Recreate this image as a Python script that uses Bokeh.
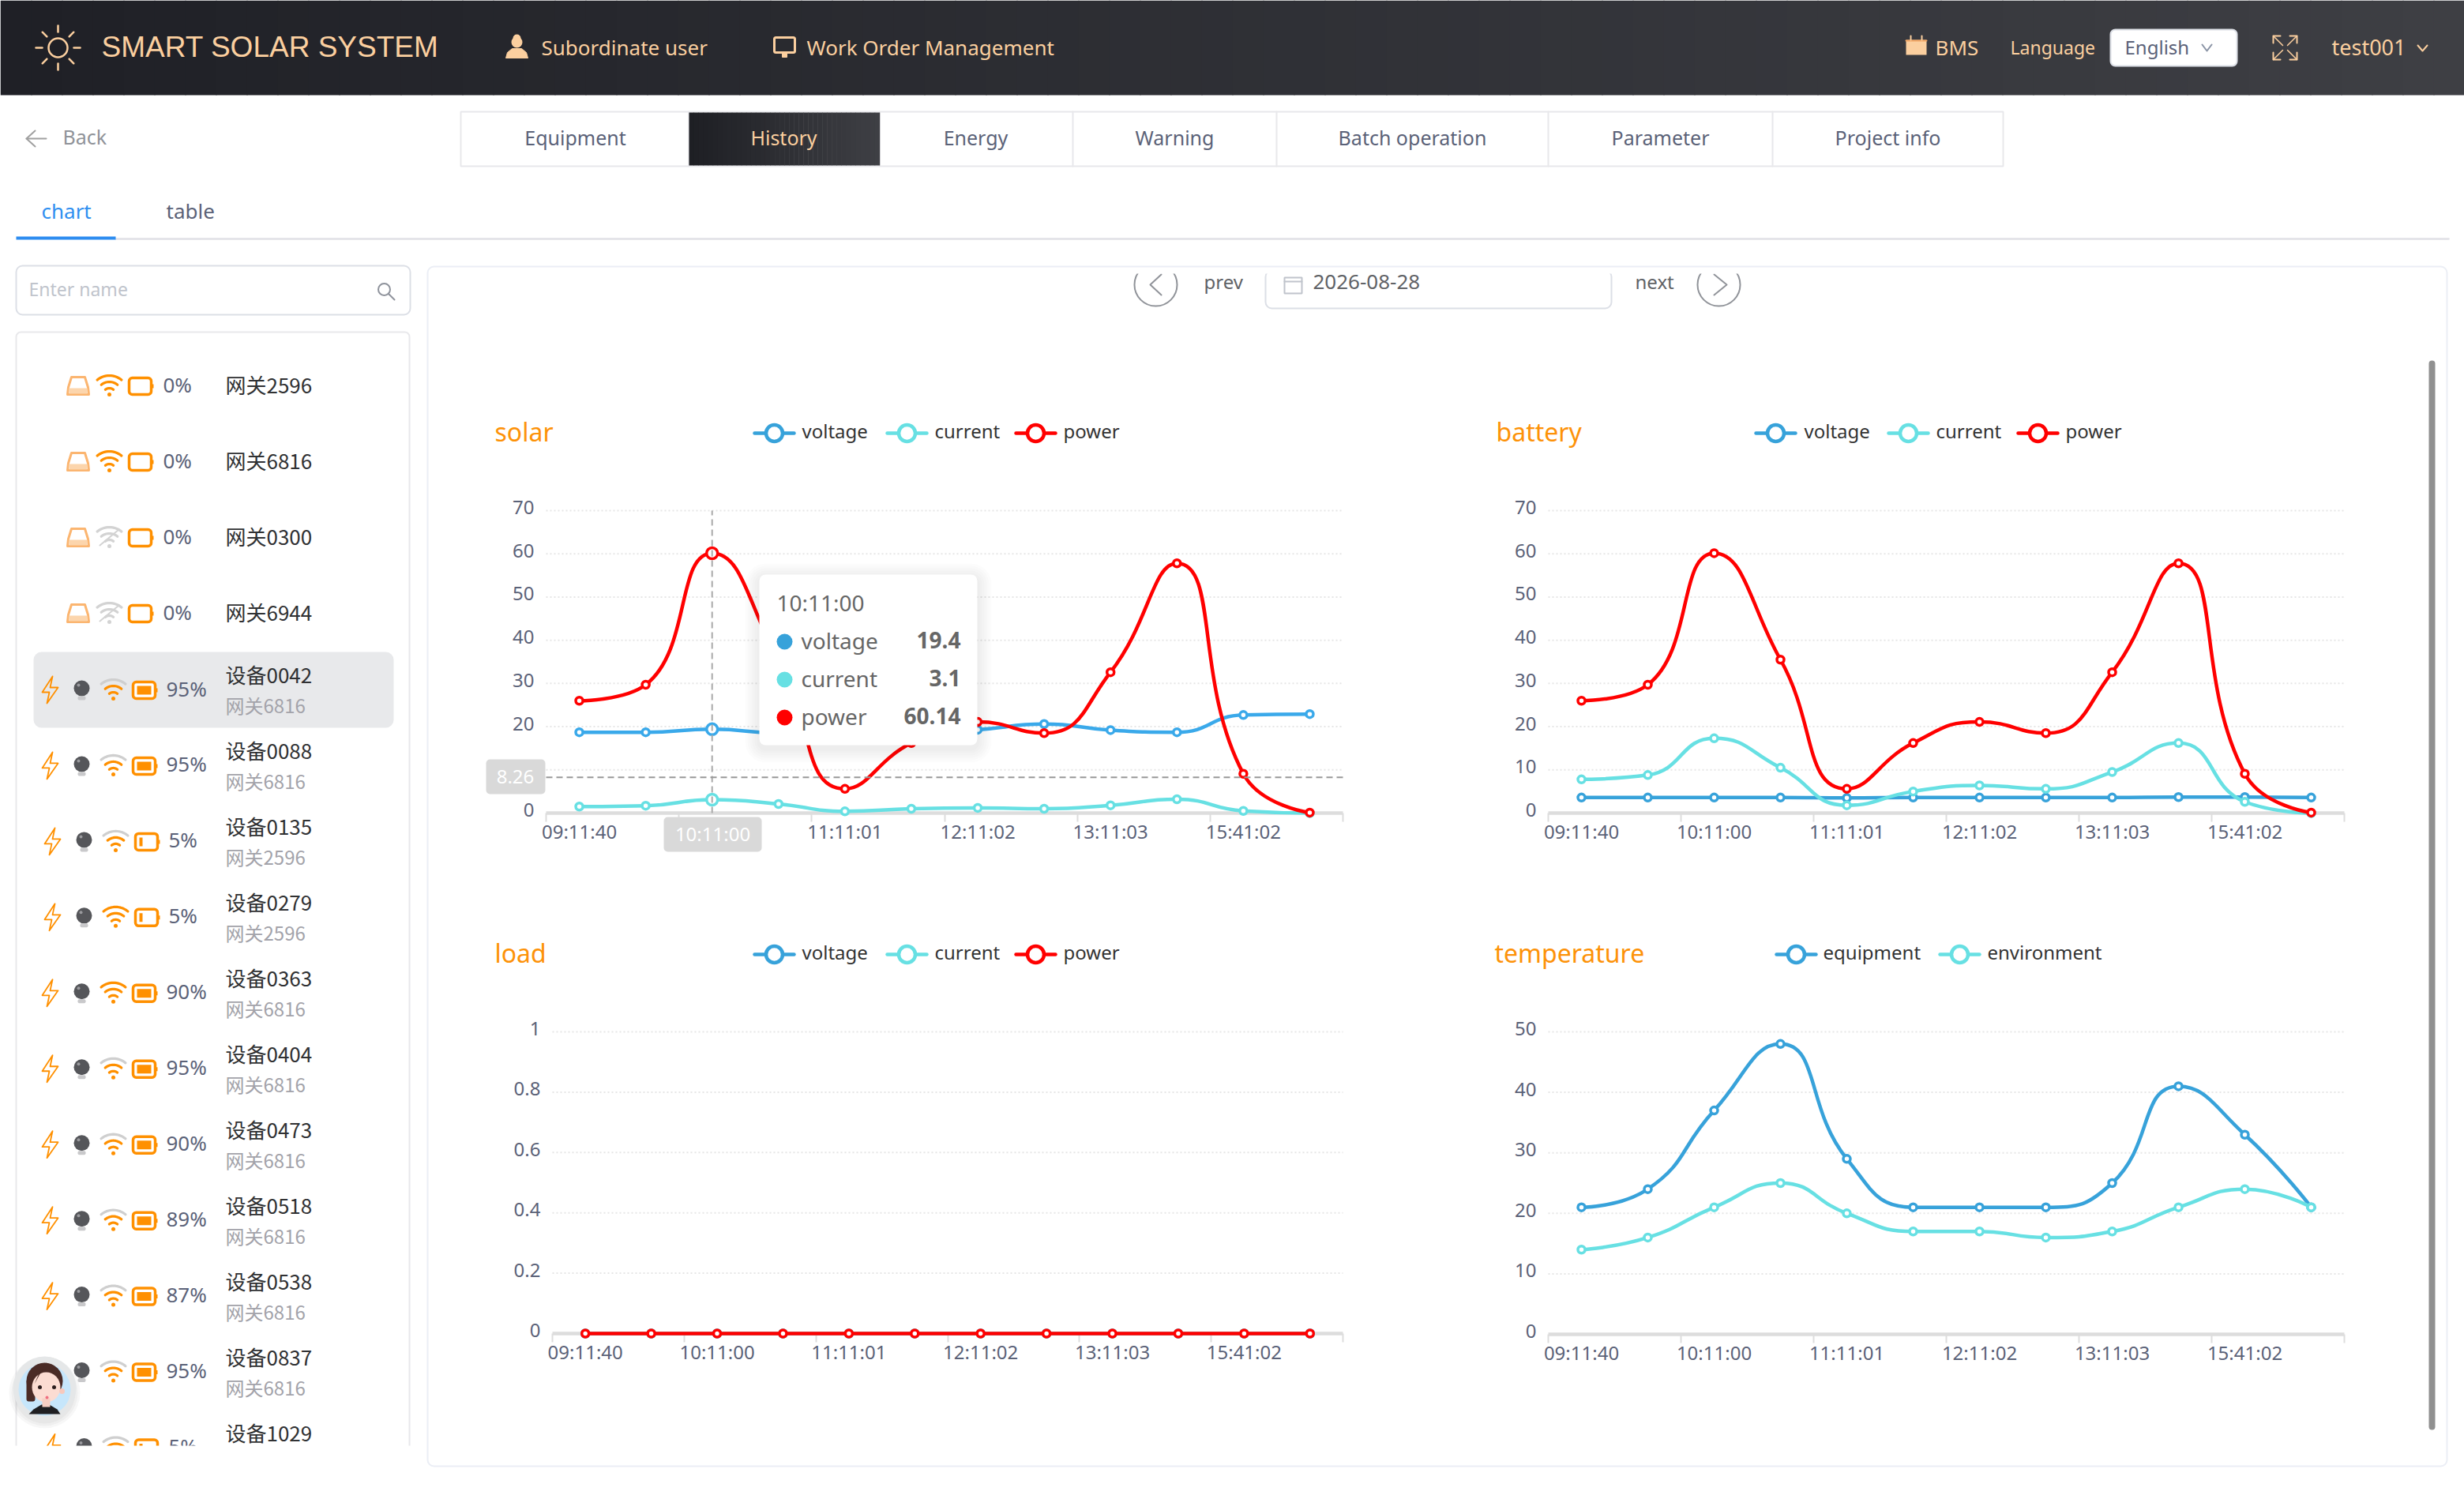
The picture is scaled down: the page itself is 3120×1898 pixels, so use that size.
import math
import numpy as np
from bokeh.plotting import figure
from bokeh.models import Range1d, LinearAxis, FixedTicker
from bokeh.core.properties import value
from bokeh.embed import file_html
from bokeh.resources import INLINE

# ------------------------------------------------------------------ data
time_index = list(range(12))
time_ticks = [0, 2, 4, 6, 8, 10]
time_labels = ["09:11:40", "10:11:00", "11:11:01", "12:11:02", "13:11:03", "15:41:02"]

solar_voltage = [18.7, 18.7, 19.4, 18.5, 18.4, 18.6, 19.3, 20.6, 19.2, 18.7, 22.7, 22.9]
solar_current = [1.5, 1.7, 3.1, 2.1, 0.4, 1.0, 1.2, 1.0, 1.8, 3.2, 0.5, 0.0]
solar_power = [26.0, 29.7, 60.14, 35.5, 5.6, 16.2, 21.1, 18.5, 32.6, 57.8, 9.1, 0.1]
battery_voltage = [3.6, 3.6, 3.6, 3.6, 3.5, 3.6, 3.6, 3.6, 3.6, 3.7, 3.7, 3.6]
battery_current = [7.8, 8.8, 17.3, 10.5, 1.8, 5.0, 6.4, 5.6, 9.5, 16.2, 2.6, 0.0]
battery_power = [26.0, 29.7, 60.14, 35.5, 5.6, 16.2, 21.1, 18.5, 32.6, 57.8, 9.1, 0.1]
load_voltage = [0] * 12
load_current = [0] * 12
load_power = [0] * 12
temp_equipment = [21, 24, 37, 48, 29, 21, 21, 21, 25, 41, 33, 21]
temp_environment = [14, 16, 21, 25, 20, 17, 17, 16, 17, 21, 24, 21]

ticks_70 = [0, 10, 20, 30, 40, 50, 60, 70]
ticks_1 = [0, 0.2, 0.4, 0.6, 0.8, 1]
ticks_50 = [0, 10, 20, 30, 40, 50]

nav_tabs = ["Equipment", "History", "Energy", "Warning", "Batch operation", "Parameter", "Project info"]
gateway_names = ["网关2596", "网关6816", "网关0300", "网关6944"]
gateway_online = [True, True, False, False]
device_names = ["设备0042", "设备0088", "设备0135", "设备0279", "设备0363", "设备0404",
                "设备0473", "设备0518", "设备0538", "设备0837", "设备1029"]
device_gateways = ["网关6816", "网关6816", "网关2596", "网关2596", "网关6816", "网关6816",
                   "网关6816", "网关6816", "网关6816", "网关6816", ""]
device_percent = [95, 95, 5, 5, 90, 95, 90, 89, 87, 95, 5]
device_full_wifi = [False, False, False, True, True, False, False, False, False, False, False]

hover_index = 2
hover_time = "10:11:00"
hover_y = 8.26
hover_names = ["voltage", "current", "power"]
hover_values = ["19.4", "3.1", "60.14"]

# ------------------------------------------------------------------ style
W, H = 3120, 1898
PEACH = "#fbcf9f"
ORANGE = "#ff9000"
BLUE, CYAN, RED = "#37a2da", "#67e0e3", "#ff0000"
TICK = "#5b6278"
SANS = "Noto Sans"
CJK = "Noto Sans CJK SC"

p = figure(width=W, height=H, x_range=Range1d(0, W), y_range=Range1d(H, 0),
           x_axis_type=None, y_axis_type=None, toolbar_location=None,
           output_backend="svg", min_border=0, outline_line_color=None)
p.grid.visible = False


def T(x, y, s, size, color, font=SANS, align="left", bold=False):
    p.text(x=[x], y=[y - 2], text=[s], text_font=value(font), text_font_size=f"{size}px",
           text_color=color, text_align=align, text_baseline="middle",
           text_font_style="bold" if bold else "normal")


def L(xs, ys, color, w=2, dash="solid", alpha=1.0):
    p.line(xs, ys, line_color=color, line_width=w, line_dash=dash, line_alpha=alpha,
           line_cap="round", line_join="round")


def B(l, t, r, b, fill=None, line=None, w=2, radius=0, alpha=1.0):
    p.quad(left=[l], right=[r], top=[t], bottom=[b], fill_color=fill, fill_alpha=alpha,
           line_color=line, line_width=w, border_radius=radius)


def D(x, y, d, fill, line=None, w=0):
    p.scatter([x], [y], size=d, marker="circle", fill_color=fill, line_color=line, line_width=w)


def shadow(l, t, r, b, spread=18, dy=4, radius=10, alpha=0.012):
    for s in range(spread, 0, -3):
        B(l - s, t - s + dy, r + s, b + s + dy, fill="#000000", radius=radius + s, alpha=alpha)


# ------------------------------------------------------------------ header
edges = np.linspace(0, W, 81)
for i in range(80):
    t = i / 79
    c = tuple(int(round(a + (b - a) * t)) for a, b in zip((31, 32, 38), (62, 63, 68)))
    B(float(edges[i]), 0, float(edges[i + 1]) + 1, 120, fill="#%02x%02x%02x" % c)

# sun logo
cx, cy = 73, 60
D(cx, cy, 24, None, PEACH, 2.5)
for a in range(0, 360, 45):
    ca, sa = math.cos(math.radians(a)), math.sin(math.radians(a))
    L([cx + 20 * ca, cx + 28 * ca], [cy + 20 * sa, cy + 28 * sa], PEACH, 2.5)
T(128, 61, "SMART SOLAR SYSTEM", 37, PEACH, font="Liberation Sans")

# person
D(654, 53, 14, PEACH)
D(654, 48, 10, PEACH)
p.patch([640, 642, 648, 660, 666, 668], [73, 66, 61, 61, 66, 73], fill_color=PEACH, line_color=PEACH)
T(685, 61, "Subordinate user", 26, PEACH)
# monitor
B(980, 47, 1006, 66, None, PEACH, 3, radius=2)
B(990, 66, 996, 72, PEACH, PEACH, 1)
T(1021, 61, "Work Order Management", 26, PEACH)
# bms
B(2413, 50, 2439, 69, PEACH, None)
L([2413, 2439], [51, 51], "#f4a662", 2)
L([2419, 2419], [45, 50], PEACH, 2)
L([2433, 2433], [45, 50], PEACH, 2)
T(2450, 61, "BMS", 26, PEACH)
T(2545, 61, "Language", 23, PEACH)
B(2672, 37, 2832, 83, "#ffffff", "#dcdfe6", 2, radius=6)
T(2690, 61, "English", 24, "#5b6278")
L([2788, 2794, 2800], [56, 64, 56], "#8a93a5", 2)
# fullscreen
for (a, b, sx, sy) in [(2878, 45, 1, 1), (2908, 45, -1, 1), (2878, 75, 1, -1), (2908, 75, -1, -1)]:
    L([a, a, a + 9 * sx], [b + 9 * sy, b, b], PEACH, 2)
    L([a, a + 12 * sx], [b, b + 12 * sy], PEACH, 1.5)
T(2952, 61, "test001", 27, PEACH)
L([3061, 3067, 3073], [57, 64, 57], PEACH, 2)

# ------------------------------------------------------------------ nav
L([33, 58], [175, 175], "#a0a0a0", 2)
L([44, 33, 44], [165, 175, 185], "#a0a0a0", 2)
T(79, 174, "Back", 25, "#909399")

tab_edges = [583, 872, 1113, 1358, 1616, 1960, 2244, 2536]
tab_centers = [728, 992, 1235, 1487, 1788, 2102, 2390]
B(583, 141, 2536, 210, None, "#e8e8eb", 2)
for x_edge in tab_edges[1:-1]:
    L([x_edge, x_edge], [141, 210], "#e8e8eb", 2)
for i in range(40):
    t = i / 39
    c = tuple(int(round(a + (b - a) * t)) for a, b in zip((30, 31, 36), (62, 63, 68)))
    B(872 + i * 6.03, 142, 872 + (i + 1) * 6.03 + 0.5, 209, fill="#%02x%02x%02x" % c)
for name, x_c in zip(nav_tabs, tab_centers):
    T(x_c, 175, name, 25, PEACH if name == "History" else "#5b6278", align="center")

T(52, 268, "chart", 26, "#2f8ff0")
T(210, 268, "table", 26, "#5b6278")
L([146, 3100], [302, 302], "#e0e0e6", 2.5)
B(20, 299, 146, 303, "#2d8cf0")

# ------------------------------------------------------------------ sidebar
B(20, 336, 519, 398, None, "#dcdfe6", 2, radius=8)
T(36, 367, "Enter name", 23, "#c0c4cc")
D(486, 366, 15, None, "#8f939c", 2)
L([492, 499], [372, 379], "#8f939c", 2)
B(20, 420, 518, 1900, None, "#e8e8eb", 2, radius=6)


def wifi(cx, cy, top, mid, low):
    ang = np.radians(np.linspace(-40, 40, 17))
    ay = cy + 11
    for r, col in zip((24, 16, 8), (top, mid, low)):
        p.line(list(cx + r * np.sin(ang)), list(ay - r * np.cos(ang)), line_color=col,
               line_width=3.2, line_cap="round")
    D(cx, ay, 5, low)


def battery(l, cy, pct):
    B(l + 1, cy - 10, l + 29, cy + 11, "#ffffff", ORANGE, 3.5, radius=4)
    B(l + 30, cy - 2, l + 32, cy + 3, ORANGE)
    if pct >= 50:
        B(l + 6, cy - 5, l + 24, cy + 6, ORANGE)
    elif pct > 0:
        B(l + 6, cy - 5, l + 10, cy + 6, ORANGE)


for i, (name, online) in enumerate(zip(gateway_names, gateway_online)):
    y = 488 + 96 * i
    p.patch([86, 90, 107, 111, 112, 85], [y + 2, y - 11, y - 11, y + 2, y + 11, y + 11],
            fill_color="#ffffff", line_color="#fbb570", line_width=3, line_join="round")
    B(87, y + 3, 110, y + 10, "#fcd5ac")
    if online:
        wifi(138, y, ORANGE, ORANGE, ORANGE)
    else:
        wifi(138, y, "#d3d3d3", "#d3d3d3", "#d3d3d3")
        L([126, 150], [y + 10, y - 10], "#d3d3d3", 2)
    battery(162, y, 0)
    T(206, y, "0%", 26, TICK)
    T(285, y, name, 26, "#303133", font=CJK)

B(42, 825, 498, 921, "#e8e9eb", radius=10)

bolt_x = [13, 0, 9, 6, 20, 10, 13]
bolt_y = [-17, 3, 3, 17, -3, -3, -17]
for i, (name, gate, pct, full) in enumerate(zip(device_names, device_gateways, device_percent, device_full_wifi)):
    y_name = 855 + 95.95 * i
    y = y_name + 18
    dx = 3 if pct < 10 else 0
    L([53 + dx + a for a in bolt_x], [y + a for a in bolt_y], ORANGE, 1.8)
    D(103 + dx, y - 2, 20, "#55565a")
    D(99 + dx, y - 6, 4, "#9a9a9e")
    B(98 + dx, y + 8, 108 + dx, y + 13, "#c9c9cb", radius=2)
    wifi(143 + dx, y, ORANGE if full else "#cfcfcf", ORANGE, ORANGE)
    battery(167 + dx, y, pct)
    T(210 + dx, y, f"{pct}%", 26, TICK)
    T(285, y_name, name, 26, "#303133", font=CJK)
    if gate:
        T(285, y_name + 39, gate, 24, "#a3a3aa", font=CJK)

B(0, 1830, 540, 1898, "#ffffff")

# avatar
shadow(20, 1724, 92, 1796, spread=9, dy=3, radius=36, alpha=0.03)
D(56, 1757, 80, "#e5e7e8")
D(56, 1759, 66, "#c6e6fb")
D(56, 1748, 46, "#4a2b26")
B(33, 1746, 44, 1774, "#4a2b26", radius=3)
p.ellipse([58], [1756], width=[36], height=[38], fill_color="#fbdcd2", line_color=None)
p.patch([36, 42, 52, 62, 72, 76], [1790, 1784, 1778, 1778, 1784, 1790], fill_color="#1f1f22", line_color=None)
B(53, 1770, 63, 1781, "#f6cfc4")
D(50, 1756, 5, "#2a1c1c")
D(68, 1756, 5, "#2a1c1c")
D(59, 1769, 4, "#ef6f80")
p.patch([43, 50, 62, 76, 74, 58], [1752, 1736, 1732, 1744, 1735, 1725], fill_color="#4a2b26", line_color=None)
D(78, 1761, 7, "#f7c9bd")

# ------------------------------------------------------------------ chart card
D(1463, 360, 54, None, "#909399", 2)
L([1470, 1456, 1470], [347, 360, 373], "#909399", 2)
T(1524, 358, "prev", 24, "#606266")
B(1602, 342, 2040, 390, None, "#dcdfe6", 2, radius=8)
B(1626, 351, 1648, 371, None, "#c0c4cc", 2)
L([1626, 1648], [356, 356], "#c0c4cc", 2)
T(1662, 358, "2026-08-28", 26, "#606266")
T(2070, 358, "next", 24, "#606266")
D(2176, 360, 54, None, "#909399", 2)
L([2170, 2186, 2170], [347, 360, 373], "#909399", 2)
B(1420, 330, 2215, 346, "#ffffff")
B(541, 337, 3098, 1856, None, "#ebeef5", 2, radius=8)
B(3075, 456, 3083, 1810, "#909090", radius=4)


# ------------------------------------------------------------------ chart machinery
def smooth_segments(xs, ys, sx, sy, s=0.5):
    """Control points of the curve through the given values, computed in pixel space."""
    px = [float(v) * sx for v in xs]
    py = [float(v) * sy for v in ys]
    n = len(px)
    cp0x, cp0y = px[0], py[0]
    out = []
    for i in range(n - 1):
        x, y, nx, ny = px[i], py[i], px[i + 1], py[i + 1]
        if i + 2 < n:
            nnx, nny = px[i + 2], py[i + 2]
            vx, vy = nnx - x, nny - y
            d0 = math.hypot(nx - x, ny - y)
            d1 = math.hypot(nnx - nx, nny - ny)
            ratio = d1 / (d0 + d1)
            ncx = nx + vx * s * ratio
            ncy = ny + vy * s * ratio
            ncx = min(ncx, max(nnx, nx)); ncy = min(ncy, max(nny, ny))
            ncx = max(ncx, min(nnx, nx)); ncy = max(ncy, min(nny, ny))
            vx, vy = ncx - nx, ncy - ny
            c1x = nx - vx * d0 / d1
            c1y = ny - vy * d0 / d1
            c1x = min(c1x, max(x, nx)); c1y = min(c1y, max(y, ny))
            c1x = max(c1x, min(x, nx)); c1y = max(c1y, min(y, ny))
            vx, vy = nx - c1x, ny - c1y
            ncx = nx + vx * d1 / d0
            ncy = ny + vy * d1 / d0
        else:
            c1x, c1y, ncx, ncy = nx, ny, nx, ny
        out.append((x / sx, y / sy, nx / sx, ny / sy, cp0x / sx, cp0y / sy, c1x / sx, c1y / sy))
        cp0x, cp0y = ncx, ncy
    return list(zip(*out))


def chart(key, title, title_xy, legend, series, ticks, left, right, y_zero, y_top, hover=None):
    """left/right/y_zero/y_top place the plot area on the page; the data go through the range pair."""
    px_x = (right - left) / 12.0
    px_y = (y_zero - y_top) / float(ticks[-1])
    xn, yn, yl = f"{key}_x", f"{key}_y", f"{key}_ylabels"
    p.extra_x_ranges[xn] = Range1d(-0.5 - left / px_x, -0.5 + (W - left) / px_x)
    p.extra_y_ranges[yn] = Range1d(-(H - y_zero) / px_y, y_zero / px_y)
    # same scale, lifted 4px: the value labels sit slightly above their grid lines
    p.extra_y_ranges[yl] = Range1d(-(H - y_zero + 4) / px_y, (y_zero - 4) / px_y)
    kw = dict(x_range_name=xn, y_range_name=yn)

    T(title_xy[0], title_xy[1], title, 32, "#fd9208")
    for (name, color, icon_x, text_x) in legend:
        ly = title_xy[1]
        L([icon_x - 25, icon_x + 25], [ly, ly], color, 4.5)
        D(icon_x, ly, 21, "#ffffff", color, 4.5)
        T(text_x, ly - 1, name, 24, "#333333")

    # grid
    gt = [t for t in ticks if t != 0]
    p.segment(x0=[-0.5] * len(gt), x1=[11.5] * len(gt), y0=gt, y1=gt, line_color="#e6e6e6",
              line_width=2, line_dash="2 3", **kw)

    xax = LinearAxis(fixed_location=0, bounds=(-0.5, 11.5), level="underlay",
                     ticker=FixedTicker(ticks=time_ticks, minor_ticks=[-0.5, 1.5, 3.5, 5.5, 7.5, 9.5, 11.5]),
                     major_label_overrides=dict(zip(time_ticks, time_labels)),
                     major_tick_line_color=None, major_tick_out=0, major_tick_in=0,
                     minor_tick_line_color="#dddddd", minor_tick_line_width=2,
                     minor_tick_out=11, minor_tick_in=0,
                     axis_line_color="#dddddd", axis_line_width=4.5,
                     major_label_standoff=-5, major_label_text_color=TICK,
                     major_label_text_font=SANS, major_label_text_font_size="24px", **kw)
    yax = LinearAxis(fixed_location=-0.5, bounds=(0, ticks[-1]), level="underlay",
                     ticker=FixedTicker(ticks=ticks),
                     major_label_overrides={t: str(t) for t in ticks},
                     major_tick_line_color=None, major_tick_out=0, major_tick_in=0,
                     minor_tick_line_color=None, axis_line_color=None,
                     major_label_standoff=15, major_label_text_color=TICK,
                     major_label_text_font=SANS, major_label_text_font_size="24px",
                     x_range_name=xn, y_range_name=yl)
    p.add_layout(xax, "below")
    p.add_layout(yax, "left")

    for (values, color) in series:
        seg = smooth_segments(time_index, values, px_x, px_y)
        p.bezier(x0=seg[0], y0=seg[1], x1=seg[2], y1=seg[3], cx0=seg[4], cy0=seg[5], cx1=seg[6], cy1=seg[7],
                 line_color=color, line_width=4.5, **kw)
        sizes = [14 if (hover is not None and i == hover) else 9 for i in time_index]
        p.scatter(time_index, values, size=sizes, marker="circle", fill_color="#ffffff",
                  line_color=color, line_width=3.5, **kw)
    return kw


solar_kw = chart("solar", "solar", (626, 548),
                 [("voltage", BLUE, 980, 1015), ("current", CYAN, 1148, 1183), ("power", RED, 1311, 1346)],
                 [(solar_voltage, "#3aa9ea"), (solar_current, CYAN), (solar_power, RED)],
                 ticks_70, 691, 1700, 1029, 646, hover=hover_index)
chart("battery", "battery", (1894, 548),
      [("voltage", BLUE, 2248, 2284), ("current", CYAN, 2416, 2451), ("power", RED, 2580, 2615)],
      [(battery_voltage, BLUE), (battery_current, CYAN), (battery_power, RED)],
      ticks_70, 1960, 2968, 1029, 646)
chart("load", "load", (626, 1208),
      [("voltage", BLUE, 980, 1015), ("current", CYAN, 1148, 1183), ("power", RED, 1311, 1346)],
      [(load_voltage, BLUE), (load_current, CYAN), (load_power, RED)],
      ticks_1, 699, 1700, 1688, 1306)
chart("temp", "temperature", (1892, 1208),
      [("equipment", BLUE, 2274, 2308), ("environment", CYAN, 2481, 2516)],
      [(temp_equipment, BLUE), (temp_environment, CYAN)],
      ticks_50, 1960, 2968, 1689, 1306)

# crosshair on the solar chart
p.segment(x0=[hover_index], x1=[hover_index], y0=[0], y1=[70], line_color="#aaaaaa", line_width=2,
          line_dash="8 5", **solar_kw)
p.segment(x0=[-0.5], x1=[11.5], y0=[hover_y], y1=[hover_y], line_color="#999999", line_width=2,
          line_dash="8 5", **solar_kw)
B(615, 961, 690, 1005, "#d9d9d9", radius=5)
T(652, 985, f"{hover_y}", 24, "#ffffff", align="center")
B(840, 1034, 964, 1078, "#d9d9d9", radius=5)
T(902, 1057, hover_time, 24, "#ffffff", align="center")

# tooltip
shadow(961, 727, 1237, 943, spread=18, dy=4, radius=8, alpha=0.012)
B(961, 727, 1237, 943, "#ffffff", radius=8)
T(983, 764, hover_time, 28, "#666666")
for name, val, color, y in zip(hover_names, hover_values, (BLUE, CYAN, RED), (812, 860, 908)):
    D(993, y, 20, color)
    T(1014, y, name, 28, "#666666")
    T(1216, y, val, 28, "#666666", align="right", bold=True)

open("out.html", "w", encoding="utf-8").write(file_html(p, INLINE))
